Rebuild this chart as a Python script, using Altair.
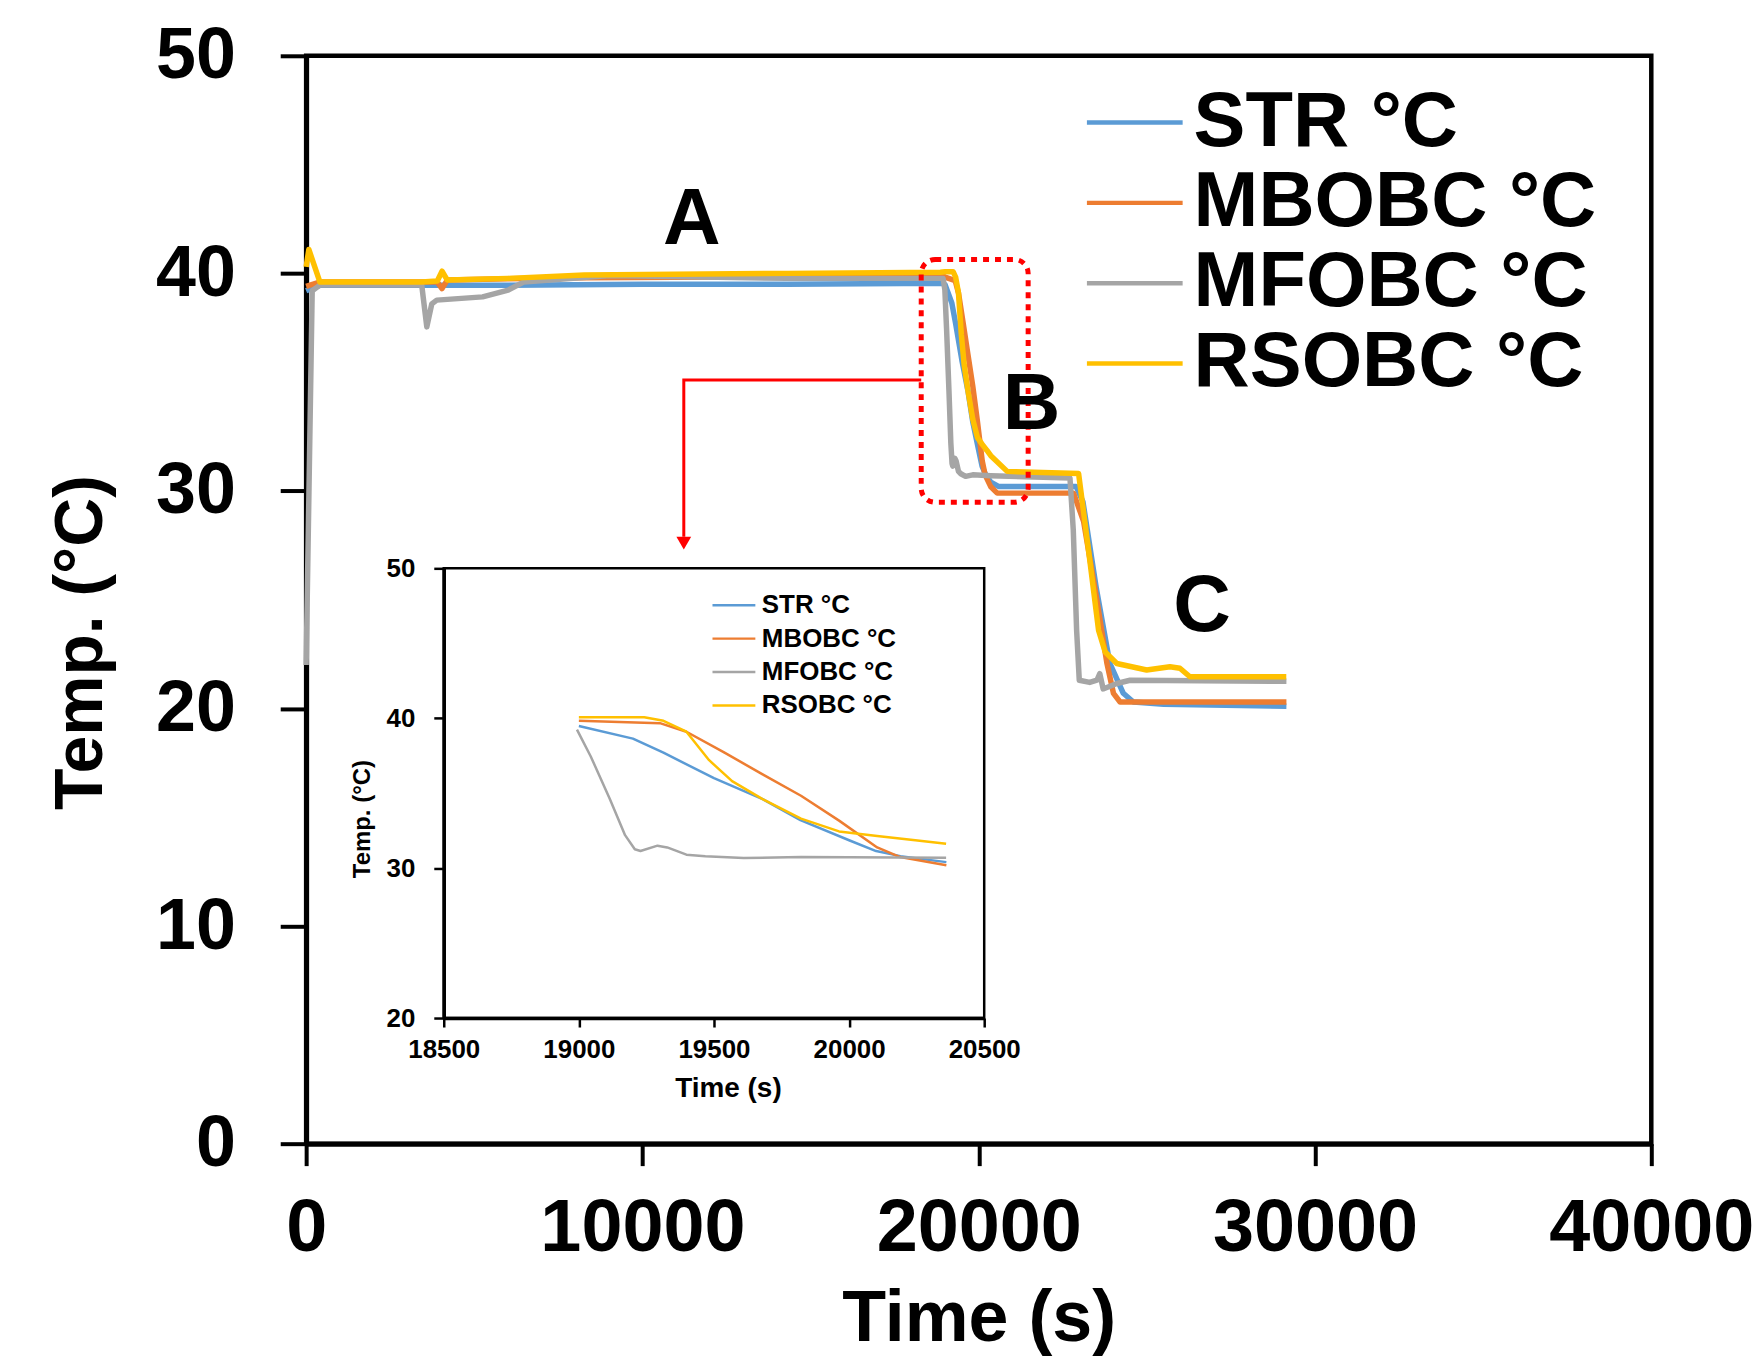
import altair as alt
import pandas as pd

FONT = "Liberation Sans"

SERIES = ["STR °C", "MBOBC °C", "MFOBC °C", "RSOBC °C"]
COLORS = ["#5B9BD5", "#ED7D31", "#A5A5A5", "#FFC000"]

# ---- series data (time in s, temperature in °C) ----
str_t = [0, 400, 3500, 6000, 10000, 14300, 18900, 19000, 19200, 19313, 19500, 19680, 19820,
         20000, 20100, 20190, 20360, 20600, 21500, 22900, 23100, 23500, 23900, 24300, 24600,
         25500, 29150]
str_v = [39.2, 39.45, 39.45, 39.45, 39.5, 39.5, 39.55, 39.48, 38.64, 37.7, 36.0, 34.6, 33.2,
         31.86, 31.14, 30.8, 30.4, 30.2, 30.2, 30.2, 29.5, 25.5, 22.07, 20.7, 20.3,
         20.2, 20.1]

mbobc_t = [0, 400, 3900, 4040, 4200, 6000, 8270, 14300, 18900, 19000, 19300, 19398, 19539,
           19680, 19822, 19963, 20104, 20189, 20360, 20550, 22820, 23118, 23514, 23810,
           24007, 24204, 29150]
mbobc_v = [39.4, 39.6, 39.6, 39.3, 39.7, 39.75, 39.8, 39.85, 39.9, 39.83, 39.67, 39.1, 37.7,
           36.26, 34.83, 33.17, 31.38, 30.74, 30.19, 29.9, 29.9, 28.6, 24.98, 22.1,
           20.7, 20.3, 20.3]

mfobc_t = [0, 180, 410, 3437, 3588, 3736, 3884, 5248, 6007, 6464, 9032, 14300, 18941, 18993,
           19044, 19115, 19171, 19207, 19228, 19291, 19327, 19398, 19468, 19610, 19822, 20359,
           22713, 22812, 22911, 22990, 23300, 23514, 23600, 23700, 24106, 24500, 29150]
mfobc_v = [22.0, 39.2, 39.46, 39.46, 37.54, 38.6, 38.77, 38.92, 39.23, 39.6, 39.9, 39.77,
           39.77, 39.24, 37.45, 34.6, 32.2, 31.26, 31.14, 31.5, 31.38, 30.9, 30.79, 30.67,
           30.74, 30.7, 30.6, 28.2, 23.6, 21.3, 21.2, 21.3, 21.6, 20.9, 21.15, 21.3, 21.25]

rsobc_t = [0, 80, 410, 3437, 3900, 4041, 4193, 6000, 8273, 14322, 18860, 19000, 19242, 19313,
           19398, 19482, 19567, 19680, 19822, 19963, 20104, 20245, 20359, 20846, 22970, 23266,
           23563, 23760, 24106, 24995, 25687, 25983, 26280, 29146]
rsobc_v = [40.3, 41.1, 39.6, 39.6, 39.65, 40.1, 39.7, 39.77, 39.92, 40.0, 40.05, 40.07, 40.07,
           39.83, 39.1, 37.2, 35.8, 34.6, 33.3, 32.45, 32.14, 31.86, 31.62, 30.9, 30.8, 27.27,
           23.6, 22.6, 22.07, 21.77, 21.92, 21.85, 21.46, 21.46]

# axis ticks
main_x_ticks = [0, 10000, 20000, 30000, 40000]
main_y_ticks = [0, 10, 20, 30, 40, 50]
inset_x_ticks = [18500, 19000, 19500, 20000, 20500]
inset_y_ticks = [20, 30, 40, 50]
inset_window = [18990, 20365]

# annotations
ann_labels = ["A", "B", "C"]
ann_t = [11470, 21570, 26640]
ann_v = [42.43, 33.93, 24.65]

# highlight box (region B) and arrow
box_t = [18290]
box_t2 = [21470]
box_v = [29.48]
box_v2 = [40.64]
arrow_t = [18290, 11230, 11230]
arrow_v = [35.1, 35.1, 27.9]
head_t = [11230]
head_v = [27.6]

rows = []
for name, ts, vs in zip(SERIES, [str_t, mbobc_t, mfobc_t, rsobc_t],
                        [str_v, mbobc_v, mfobc_v, rsobc_v]):
    for i, (t, v) in enumerate(zip(ts, vs)):
        rows.append({"series": name, "t": t, "v": v, "i": i})
lines_df = pd.DataFrame(rows)

ann_df = pd.DataFrame({"label": ann_labels, "t": ann_t, "v": ann_v})
box_df = pd.DataFrame({"t": box_t, "t2": box_t2, "v": box_v, "v2": box_v2})
arrow_df = pd.DataFrame({"t": arrow_t, "v": arrow_v, "i": list(range(len(arrow_t)))})
head_df = pd.DataFrame({"t": head_t, "v": head_v})
frame_df = pd.DataFrame({"t": [inset_x_ticks[0]], "t2": [inset_x_ticks[-1]],
                         "v": [inset_y_ticks[0]], "v2": [inset_y_ticks[-1]]})

# ---------------- main chart ----------------
mx_scale = alt.Scale(domain=[0, 40000], nice=False, zero=False)
my_scale = alt.Scale(domain=[0, 50], nice=False, zero=False)

main_x_axis = alt.Axis(values=main_x_ticks, format="d", title="Time (s)", grid=False,
                       domainWidth=5, domainColor="black", tickColor="black", tickWidth=4,
                       tickSize=22, labelFontSize=74, labelFont=FONT, labelFontWeight="bold",
                       labelColor="black", labelPadding=27, labelFlush=False,
                       labelOverlap=False, labelLimit=1000, titleFontSize=72, titleFont=FONT,
                       titleFontWeight="bold", titleColor="black", titlePadding=18)
main_y_axis = alt.Axis(values=main_y_ticks, title="Temp. (°C)", grid=False,
                       domainWidth=5, domainColor="black", tickColor="black", tickWidth=4,
                       tickSize=26, labelFontSize=72, labelFont=FONT, labelFontWeight="bold",
                       labelColor="black", labelPadding=45, labelFlush=False,
                       labelOverlap=False, labelLimit=1000, titleFontSize=68, titleFont=FONT,
                       titleFontWeight="bold", titleColor="black", titlePadding=40,
                       titleY=588)

main_lines = alt.Chart(lines_df).mark_line(strokeWidth=5.5, strokeJoin="round").encode(
    x=alt.X("t:Q", scale=mx_scale, axis=main_x_axis),
    y=alt.Y("v:Q", scale=my_scale, axis=main_y_axis),
    color=alt.Color("series:N", scale=alt.Scale(domain=SERIES, range=COLORS),
                    legend=alt.Legend(orient="none", legendX=792, legendY=28, title=None,
                                      labelFontSize=78, labelFont=FONT,
                                      labelFontWeight="bold", labelColor="black",
                                      symbolType="M-2,0H2", symbolSize=2304,
                                      symbolStrokeWidth=4.5, rowPadding=2.5,
                                      labelOffset=20, labelLimit=1000)),
    order=alt.Order("i:Q"),
)

ann = alt.Chart(ann_df).mark_text(fontSize=80, font=FONT, fontWeight="bold", color="black",
                                  align="center", baseline="middle").encode(
    x="t:Q", y="v:Q", text="label:N")

box = alt.Chart(box_df).mark_rect(fill=None, fillOpacity=0, stroke="#FF0000", strokeWidth=5,
                                  strokeDash=[6, 6], cornerRadius=14).encode(
    x="t:Q", x2="t2:Q", y="v:Q", y2="v2:Q")

arrow = alt.Chart(arrow_df).mark_line(color="#FF0000", strokeWidth=3).encode(
    x="t:Q", y="v:Q", order="i:Q")

head = alt.Chart(head_df).mark_point(shape="triangle-down", filled=True, color="#FF0000",
                                     size=220, opacity=1).encode(x="t:Q", y="v:Q")

main_layer = alt.layer(main_lines, box, arrow, head, ann)

# ---------------- inset chart ----------------
ix_scale = alt.Scale(domain=[inset_x_ticks[0], inset_x_ticks[-1]], range=[138, 680],
                     nice=False, zero=False)
iy_scale = alt.Scale(domain=[inset_y_ticks[0], inset_y_ticks[-1]], range=[965, 514],
                     nice=False, zero=False)

inset_x_axis = alt.Axis(values=inset_x_ticks, format="d", title="Time (s)", orient="bottom",
                        offset=-126, grid=False, domainWidth=3.5, domainColor="black",
                        tickColor="black", tickWidth=2.5, tickSize=9, labelFontSize=26,
                        labelFont=FONT, labelFontWeight="bold", labelColor="black",
                        labelPadding=10, labelFlush=False, labelOverlap=False,
                        labelLimit=500, titleFontSize=28, titleFont=FONT,
                        titleFontWeight="bold", titleColor="black", titlePadding=12,
                        titleX=423, zindex=3)
inset_y_axis = alt.Axis(values=inset_y_ticks, title="Temp. (°C)", orient="left", offset=-138,
                        grid=False, domainWidth=3.5, domainColor="black", tickColor="black",
                        tickWidth=2.5, tickSize=10, labelFontSize=26, labelFont=FONT,
                        labelFontWeight="bold", labelColor="black", labelPadding=19,
                        labelFlush=False, labelOverlap=False, titleFontSize=24,
                        titleFont=FONT, titleFontWeight="bold", titleColor="black",
                        titlePadding=12, titleY=765, zindex=3)

inset_frame = alt.Chart(frame_df).mark_rect(fill="white", stroke="black",
                                            strokeWidth=2.5).encode(
    x=alt.X("t:Q", scale=ix_scale, axis=inset_x_axis),
    x2="t2:Q",
    y=alt.Y("v:Q", scale=iy_scale, axis=inset_y_axis),
    y2="v2:Q",
)

inset_lines = alt.Chart(lines_df).transform_filter(
    (alt.datum.t >= inset_window[0]) & (alt.datum.t <= inset_window[1])
).mark_line(strokeWidth=2.5, strokeJoin="round").encode(
    x="t:Q",
    y="v:Q",
    color=alt.Color("series:N", scale=alt.Scale(domain=SERIES, range=COLORS),
                    legend=alt.Legend(orient="none", legendX=416, legendY=538, title=None,
                                      labelFontSize=26, labelFont=FONT,
                                      labelFontWeight="bold", labelColor="black",
                                      symbolType="M-2,0H2", symbolSize=462,
                                      symbolStrokeWidth=2.5, rowPadding=7.5,
                                      labelOffset=15, labelLimit=1000)),
    order=alt.Order("i:Q"),
)

inset_layer = alt.layer(inset_frame, inset_lines)

chart = alt.layer(main_layer, inset_layer).resolve_scale(
    x="independent", y="independent", color="independent"
).properties(
    width=1349,
    height=1091,
    autosize=alt.AutoSizeParams(type="none"),
    padding={"left": 299, "top": 46, "right": 104, "bottom": 212},
    background="white",
).configure_view(stroke="black", strokeWidth=4.5)

chart.save("out.html", embed_options={"renderer": "svg", "actions": False})
